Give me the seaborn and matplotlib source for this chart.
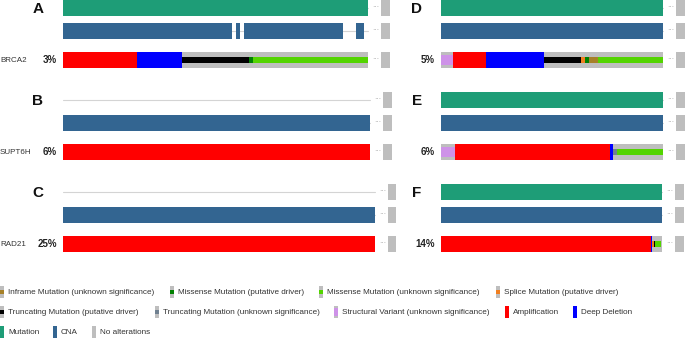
import seaborn as sns
import matplotlib.pyplot as plt

sns.set_theme(style="white")
plt.rcParams['font.family'] = ['Liberation Sans', 'DejaVu Sans']

# oncoprint colours
COLORS = {
    'mutation': '#1e9d77',
    'cna': '#336591',
    'none': '#bebebe',
    'amp': '#ff0000',
    'del': '#0000ff',
    'sv': '#ce92e8',
    'mis_drv': '#008000',
    'mis_unk': '#53d400',
    'trunc_drv': '#000000',
    'trunc_unk': '#708090',
    'inframe_unk': '#a68028',
    'splice_drv': '#f07f20',
}
# vertical extent of each glyph inside a track (from top, fraction of height)
GLYPH = {
    'mutation': (0, 1), 'cna': (0, 1), 'none': (0, 1),
    'amp': (0, 1), 'del': (0, 1), 'sv': (0.2, 0.8),
    'mis_drv': (1 / 3, 2 / 3), 'mis_unk': (1 / 3, 2 / 3),
    'trunc_drv': (1 / 3, 2 / 3), 'trunc_unk': (1 / 3, 2 / 3),
    'inframe_unk': (1 / 3, 2 / 3), 'splice_drv': (1 / 3, 2 / 3),
}

panel_letters = ['A', 'B', 'C', 'D', 'E', 'F']
gene_names = ['BRCA2', 'SUPT6H', 'RAD21', '', '', '']
altered_pct = ['3%', '6%', '25%', '5%', '6%', '14%']

# share of samples for each consecutive segment (None = empty)
mutation_tracks = [
    [('mutation', 1.0)],
    [],
    [],
    [('mutation', 1.0)],
    [('mutation', 1.0)],
    [('mutation', 1.0)],
]
cna_tracks = [
    [('cna', 0.554), (None, 0.013), ('cna', 0.013), (None, 0.013),
     ('cna', 0.325), (None, 0.043), ('cna', 0.026)],
    [('cna', 1.0)],
    [('cna', 1.0)],
    [('cna', 1.0)],
    [('cna', 1.0)],
    [('cna', 1.0)],
]
gene_tracks = [
    [('amp', 0.243), ('del', 0.147), ('trunc_drv', 0.220),
     ('mis_drv', 0.013), ('mis_unk', 0.377)],
    [('amp', 1.0)],
    [('amp', 1.0)],
    [('sv', 0.054), ('amp', 0.149), ('del', 0.261), ('trunc_drv', 0.167),
     ('splice_drv', 0.018), ('mis_drv', 0.018), ('inframe_unk', 0.041),
     ('mis_unk', 0.292)],
    [('sv', 0.063), ('amp', 0.698), ('del', 0.014), ('trunc_unk', 0.018),
     ('mis_unk', 0.207)],
    [('amp', 0.948), ('del', 0.007), ('splice_drv', 0.008),
     ('trunc_drv', 0.004), ('mis_unk', 0.030)],
]

legend_rows = [
    [('inframe_unk', 'Inframe Mutation (unknown significance)', 0),
     ('mis_drv', 'Missense Mutation (putative driver)', 170),
     ('mis_unk', 'Missense Mutation (unknown significance)', 319),
     ('splice_drv', 'Splice Mutation (putative driver)', 496)],
    [('trunc_drv', 'Truncating Mutation (putative driver)', 0),
     ('trunc_unk', 'Truncating Mutation (unknown significance)', 155),
     ('sv', 'Structural Variant (unknown significance)', 334),
     ('amp', 'Amplification', 505),
     ('del', 'Deep Deletion', 573)],
    [('mutation', 'Mutation', 0),
     ('cna', 'CNA', 53),
     ('none', 'No alterations', 92)],
]

# panel placement in pixels: left, top, track width
layout = [(63, 0, 305), (63, 92, 307), (63, 184, 312),
          (441, 0, 222), (441, 92, 222), (441, 184, 221)]
FW, FH = 685, 339
TRACK_H = 16
TRACK_TOP = [0, 23, 52]


def draw_glyph(ax, top, left, width, kind, h=TRACK_H):
    b, t = GLYPH[kind]
    ax.barh(top + h * (b + t) / 2, width, left=left, height=h * (t - b),
            color=COLORS[kind], linewidth=0, zorder=2)


def draw_segments(ax, top, segments):
    left = 0.0
    for kind, share in segments:
        if kind is not None:
            draw_glyph(ax, top, left, share, kind)
        left += share


fig = plt.figure(figsize=(FW / 100, FH / 100), dpi=100)
bg = fig.add_axes([0, 0, 1, 1])
bg.set_xlim(0, FW)
bg.set_ylim(FH, 0)
bg.axis('off')

for i, (L, T, W) in enumerate(layout):
    ax = fig.add_axes([L / FW, 1 - (T + 68) / FH, (W + 24) / FW, 68 / FH])
    ax.set_xlim(0, (W + 24) / W)
    ax.set_ylim(68, 0)
    ax.axis('off')

    tracks = [mutation_tracks[i], cna_tracks[i], gene_tracks[i]]
    for k, (top, segs) in enumerate(zip(TRACK_TOP, tracks)):
        if k < 2:
            ax.plot([0, 1], [top + TRACK_H / 2] * 2, color='#d4d4d4',
                    lw=0.8, zorder=1)
        else:
            draw_glyph(ax, top, 0, 1, 'none')
        draw_segments(ax, top, segs)
        # collapsed unaltered samples
        ax.text(1 + 8 / W, top + TRACK_H / 2, '···', ha='center',
                va='center', fontsize=5, color='#999999')
        draw_glyph(ax, top, 1 + 13 / W, 8.5 / W, 'none')

    lx = 38 if L < 200 else 417
    bg.text(lx, T + 9, panel_letters[i], ha='center', va='center',
            fontsize=11, fontweight='bold', color='#111111')
    bg.text(0, T + 60, gene_names[i], ha='left', va='center',
            fontsize=5.8, color='#333333')
    bg.text(L - 6, T + 60, altered_pct[i], ha='right', va='center',
            fontsize=7, fontweight='bold', color='#222222')

# legend
for r, row in enumerate(legend_rows):
    yc = 292 + 20 * r
    for kind, label, x in row:
        gh = 12
        bg.barh(yc, 4, left=x, height=gh, color=COLORS['none'], linewidth=0)
        b, t = GLYPH[kind]
        bg.barh(yc - gh / 2 + gh * (b + t) / 2, 4, left=x, height=gh * (t - b),
                color=COLORS[kind], linewidth=0)
        bg.text(x + 8, yc, label, ha='left', va='center',
                fontsize=5.9, color='#333333')

fig.savefig('out.png', dpi=100)
